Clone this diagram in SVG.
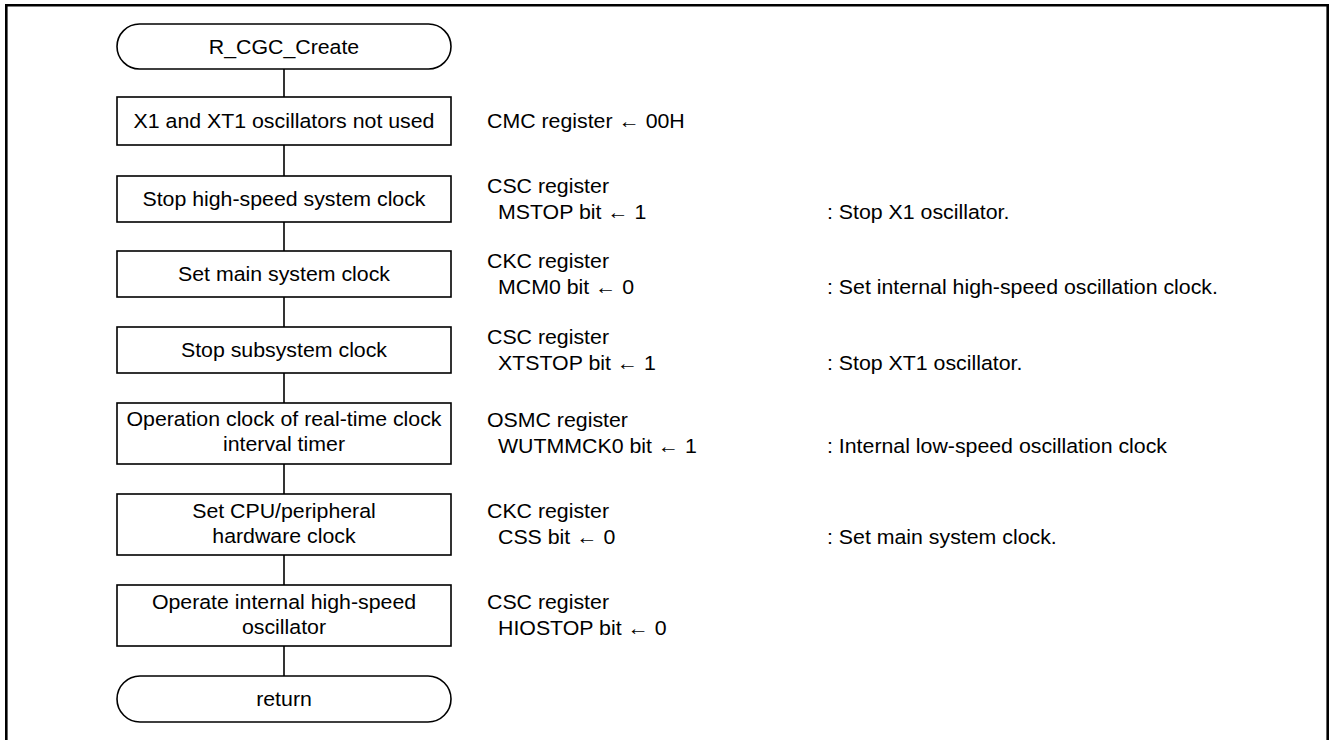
<svg xmlns="http://www.w3.org/2000/svg" width="1330" height="740" viewBox="0 0 1330 740">
  <style>
    text { font-family: "Liberation Sans", Arial, sans-serif; font-size: 20.5px; fill: #000; }
    .c { text-anchor: middle; transform-box: fill-box; transform-origin: center; transform: scaleX(1.04); }
    .l { text-anchor: start; transform-box: fill-box; transform-origin: left center; transform: scaleX(1.04); }
    .box { fill: #fff; stroke: #000; stroke-width: 1.6; }
    .wire { fill: none; stroke: #000; stroke-width: 1.6; }
    .frame { fill: none; stroke: #000; stroke-width: 2.6; }
  </style>

  <rect width="1330" height="740" fill="#fff"/>

  <!-- outer frame, open at the bottom -->
  <path class="frame" d="M6.3,742 V5.3 H1327.7 V742"/>

  <!-- connectors along the main flow -->
  <g id="connectors">
    <line class="wire" x1="284" y1="69" x2="284" y2="97"/>
    <line class="wire" x1="284" y1="145" x2="284" y2="176"/>
    <line class="wire" x1="284" y1="222" x2="284" y2="251"/>
    <line class="wire" x1="284" y1="297" x2="284" y2="327"/>
    <line class="wire" x1="284" y1="373" x2="284" y2="403"/>
    <line class="wire" x1="284" y1="464" x2="284" y2="494"/>
    <line class="wire" x1="284" y1="555" x2="284" y2="585"/>
    <line class="wire" x1="284" y1="646" x2="284" y2="676"/>
  </g>

  <g id="start">
    <rect class="box" x="117" y="24" width="334" height="45" rx="22.5" ry="22.5"/>
    <text class="c" x="284" y="54">R_CGC_Create</text>
  </g>

  <g id="step1">
    <rect class="box" x="117" y="97" width="334" height="48"/>
    <text class="c" x="284" y="128">X1 and XT1 oscillators not used</text>
    <text class="l" x="487" y="128">CMC register ← 00H</text>
  </g>

  <g id="step2">
    <rect class="box" x="117" y="176" width="334" height="46"/>
    <text class="c" x="284" y="206">Stop high-speed system clock</text>
    <text class="l" x="487" y="193">CSC register</text>
    <text class="l" x="498" y="219">MSTOP bit ← 1</text>
    <text class="l" x="827" y="219">: Stop X1 oscillator.</text>
  </g>

  <g id="step3">
    <rect class="box" x="117" y="251" width="334" height="46"/>
    <text class="c" x="284" y="281">Set main system clock</text>
    <text class="l" x="487" y="268">CKC register</text>
    <text class="l" x="498" y="294">MCM0 bit ← 0</text>
    <text class="l" x="827" y="294">: Set internal high-speed oscillation clock.</text>
  </g>

  <g id="step4">
    <rect class="box" x="117" y="327" width="334" height="46"/>
    <text class="c" x="284" y="357">Stop subsystem clock</text>
    <text class="l" x="487" y="344">CSC register</text>
    <text class="l" x="498" y="370">XTSTOP bit ← 1</text>
    <text class="l" x="827" y="370">: Stop XT1 oscillator.</text>
  </g>

  <g id="step5">
    <rect class="box" x="117" y="403" width="334" height="61"/>
    <text class="c" x="284" y="426">Operation clock of real-time clock</text>
    <text class="c" x="284" y="451.5">interval timer</text>
    <text class="l" x="487" y="427">OSMC register</text>
    <text class="l" x="498" y="453">WUTMMCK0 bit ← 1</text>
    <text class="l" x="827" y="453">: Internal low-speed oscillation clock</text>
  </g>

  <g id="step6">
    <rect class="box" x="117" y="494" width="334" height="61"/>
    <text class="c" x="284" y="518">Set CPU/peripheral</text>
    <text class="c" x="284" y="543.5">hardware clock</text>
    <text class="l" x="487" y="518">CKC register</text>
    <text class="l" x="498" y="544">CSS bit ← 0</text>
    <text class="l" x="827" y="544">: Set main system clock.</text>
  </g>

  <g id="step7">
    <rect class="box" x="117" y="585" width="334" height="61"/>
    <text class="c" x="284" y="609">Operate internal high-speed</text>
    <text class="c" x="284" y="634.5">oscillator</text>
    <text class="l" x="487" y="609">CSC register</text>
    <text class="l" x="498" y="635">HIOSTOP bit ← 0</text>
  </g>

  <g id="end">
    <rect class="box" x="117" y="676" width="334" height="46" rx="23" ry="23"/>
    <text class="c" x="284" y="706">return</text>
  </g>
</svg>
